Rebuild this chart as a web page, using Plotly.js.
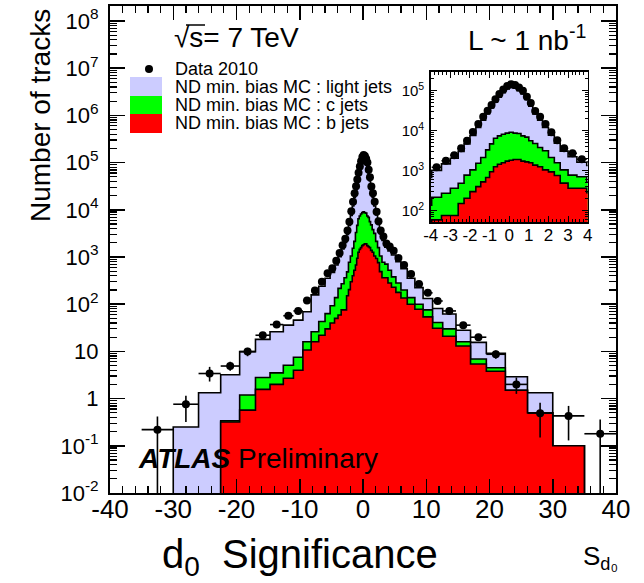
<!DOCTYPE html>
<html>
<head>
<meta charset="utf-8">
<script src="https://cdn.plot.ly/plotly-3.0.1.min.js"></script>
<style>html,body{margin:0;padding:0;background:#fff;}#chart{width:644px;height:583px;}</style>
</head>
<body>
<div id="chart"></div>
<script>
// ---- Data ----
// variable-width bin edges of the d0 significance histogram
const binEdges = [-40,-35,-30,-26,-22.5,-19.5,-17,-14.7,-12.6,-11,-9.5,-8.2,-7,-6,-5.2,-4.5,-3.95,-3.45,-3,-2.6,-2.3,-2,-1.7,-1.45,-1.2,-1,-0.8,-0.6,-0.4,-0.2,
  0,0.2,0.4,0.6,0.8,1,1.2,1.45,1.7,2,2.3,2.6,3,3.45,3.95,4.5,5.2,6,7,8.2,9.5,11,12.6,14.7,17,19.5,22.5,26,30,35,40];
// Data 2010 (tracks per unit of S_d0)
const data2010 = [null,0.22,0.76,3.4,4.9,9.9,22,37,57,72, 120,195,300,450,575,830,1220,1780,2450,3630,
  5600,9300,14800,22400,31600,43600,61000,83000,107000,132000,
  145000,138000,120000,100000,71000,49000,31000,22400,14800,9100, 5750,3630,2720,1930,1660,1350,955,676,437,269,
  174,117,72,36,20,8.7,2.0,0.49,0.43,0.18];
const data2010ErrUp = [0,0.2,0.39,1.3,1.1,2.0,3.0,4.0,0,0, 0,0,0,0,0,0,0,0,0,0, 0,0,0,0,0,0,0,0,0,0,
  0,0,0,0,0,0,0,0,0,0, 0,0,0,0,0,0,0,0,0,0, 0,0,0,0,2.5,1.7,0.8,0.33,0.27,0.18];
const data2010ErrDown = [0,0.22,0.44,1.1,1.0,2.0,3.0,4.0,0,0, 0,0,0,0,0,0,0,0,0,0, 0,0,0,0,0,0,0,0,0,0,
  0,0,0,0,0,0,0,0,0,0, 0,0,0,0,0,0,0,0,0,0, 0,0,0,0,2.5,1.7,0.74,0.34,0.30,0.18];
// stacked MC heights (top of each stack layer)
const stackLightCB = [0,0,0.25,1.33,3.2,9.9,18,26,36,46, 69,158,240,355,468,676,1020,1480,2040,3020,
  4680,7590,12000,18200,26300,37200,51300,69200,89000,110000,
  120000,115000,100000,83000,60000,40700,26300,18200,12000,7760, 4900,3090,2240,1620,1350,1100,794,562,355,224,
  132,81,62,28,15.5,9.1,2.9,1.33,0.1,0];
const stackCB = [0,0,0,0,0.34,1.19,2.8,3.5,5.1,7.5, 16,26,43,63,93,138,216,272,363,484,
  776,1050,1530,2140,3310,4680,6460,7410,8130,8710,
  9120,8710,8510,7410,6920,5620,4790,3800,3160,2140, 1580,1050,776,708,525,380,282,200,138,100,
  76,41,30,16,6.9,4.5,1.5,0.5,0.1,0];
const stackB = [0,0,0,0,0.32,0.57,1.57,2.0,2.7,4.0, 10.7,16,22,30,40,50,59,76,76,151,
  204,300,400,525,676,944,1260,1450,1580,1740,
  1820,1900,1900,1740,1660,1580,1380,1260,1050,933, 759,490,363,363,282,229,178,135,100,78,
  54,31,21,13,5.4,3.8,1.5,0.5,0.1,0];
const legendLabels = ["Data 2010","ND min. bias MC : light jets","ND min. bias MC : c jets","ND min. bias MC : b jets"];
const mainXTicks = [-40,-30,-20,-10,0,10,20,30,40];
const mainYTickText = ["10<sup>-2</sup>","10<sup>-1</sup>","1","10","10<sup>2</sup>","10<sup>3</sup>","10<sup>4</sup>","10<sup>5</sup>","10<sup>6</sup>","10<sup>7</sup>","10<sup>8</sup>"];
const insetXTicks = [-4,-3,-2,-1,0,1,2,3,4];
const insetYTickText = ["10<sup>2</sup>","10<sup>3</sup>","10<sup>4</sup>","10<sup>5</sup>"];

// ---- helpers ----
const FONT = "Liberation Sans, Arial, Helvetica, sans-serif";
const FLOOR = 1e-6;
const centers = binEdges.slice(0,-1).map((e,i)=>(e+binEdges[i+1])/2);
const halfW = binEdges.slice(0,-1).map((e,i)=>(binEdges[i+1]-e)/2);
function step(vals){
  const x=[binEdges[0]], y=[FLOOR];
  vals.forEach((v,i)=>{x.push(binEdges[i]); y.push(v>0?v:FLOOR);});
  x.push(binEdges[binEdges.length-1]); y.push(vals[vals.length-1]>0?vals[vals.length-1]:FLOOR);
  x.push(binEdges[binEdges.length-1]); y.push(FLOOR);
  return {x,y};
}
const L=110,R=616,T=6,B=493;
const PX = p => (p-L)/(R-L);
const PY = p => (B-p)/(B-T);

function histTraces(xa, ya, msize){
  const layers = [[stackLightCB,'#ccccff'],[stackCB,'#00ff00'],[stackB,'#ff0000']];
  const out = layers.map(([v,c])=>{const s=step(v); return {x:s.x,y:s.y,type:'scatter',mode:'lines',
    line:{shape:'hv',color:'black',width:1.6},fill:'tozeroy',fillcolor:c,xaxis:xa,yaxis:ya,hoverinfo:'skip',showlegend:false};});
  out.push({x:centers,y:data2010,type:'scatter',mode:'markers',xaxis:xa,yaxis:ya,showlegend:false,
    marker:{color:'black',size:msize},
    error_y:{type:'data',symmetric:false,array:data2010ErrUp,arrayminus:data2010ErrDown,color:'black',thickness:1.6,width:0},
    error_x:{type:'data',array:halfW,color:'black',thickness:1.6,width:0}});
  return out;
}
const traces = histTraces('x','y',8).concat(histTraces('x2','y2',8));

const decades = []; for(let d=-2; d<=8; d++) decades.push(Math.pow(10,d));
const minorLog = []; for(let d=-3; d<=8; d++) for(let k=2;k<=9;k++) minorLog.push(k*Math.pow(10,d));
const minorX = []; for(let v=-40; v<=40; v+=2) minorX.push(v);
const minorX2 = []; for(let v=-4; v<=4.001; v+=0.2) minorX2.push(+v.toFixed(1));

function label(x,y,text,size,anchor,extra){
  return Object.assign({xref:'paper',yref:'paper',x:PX(x),y:PY(y),xanchor:anchor||'left',yanchor:'middle',
    showarrow:false,text:text,font:{size:size}},extra||{});
}

const layout = {
  width:644, height:583, margin:{l:L,r:644-R,t:T,b:583-B,pad:0},
  paper_bgcolor:'white', plot_bgcolor:'white', showlegend:false,
  font:{family:FONT,color:'black'},
  xaxis:{range:[-40,40],domain:[0,1],showline:true,linewidth:2,linecolor:'black',mirror:'allticks',
    ticks:'inside',ticklen:14,tickwidth:1.5,tickcolor:'black',tickmode:'array',tickvals:mainXTicks,
    ticktext:mainXTicks.map(String),tickfont:{size:26,family:FONT},showgrid:false,zeroline:false,ticklabelstandoff:-8,
    minor:{tickmode:'array',tickvals:minorX,ticks:'inside',ticklen:7,tickwidth:1.2,tickcolor:'black',showgrid:false}},
  yaxis:{type:'log',range:[-2,8.318],domain:[0,1],showline:true,linewidth:2,linecolor:'black',mirror:'allticks',
    ticks:'inside',ticklen:15,tickwidth:1.5,tickcolor:'black',tickmode:'array',tickvals:decades,ticktext:mainYTickText,
    tickfont:{size:22,family:FONT},showgrid:false,zeroline:false,ticklabelstandoff:5,
    minor:{tickmode:'array',tickvals:minorLog,ticks:'inside',ticklen:7,tickwidth:1.2,tickcolor:'black',showgrid:false}},
  xaxis2:{anchor:'y2',range:[-4,4],domain:[PX(430.7),PX(587.7)],showline:true,linewidth:1.5,linecolor:'black',mirror:'allticks',
    ticks:'inside',ticklen:6,tickwidth:1,tickcolor:'black',tickmode:'array',tickvals:insetXTicks,ticktext:insetXTicks.map(String),
    tickfont:{size:17,family:FONT},showgrid:false,zeroline:false,ticklabelstandoff:-3,
    minor:{tickmode:'array',tickvals:minorX2,ticks:'inside',ticklen:3,tickwidth:1,tickcolor:'black',showgrid:false}},
  yaxis2:{anchor:'x2',type:'log',range:[1.71,5.475],domain:[PY(222.3),PY(71.7)],showline:true,linewidth:1.5,linecolor:'black',mirror:'allticks',
    ticks:'inside',ticklen:6,tickwidth:1,tickcolor:'black',tickmode:'array',tickvals:[100,1000,10000,100000],ticktext:insetYTickText,
    tickfont:{size:15,family:FONT},showgrid:false,zeroline:false,ticklabelstandoff:2,
    minor:{tickmode:'array',tickvals:minorLog,ticks:'inside',ticklen:3,tickwidth:1,tickcolor:'black',showgrid:false}},
  shapes:[
    {type:'rect',xref:'paper',yref:'paper',x0:PX(130),x1:PX(162),y0:PY(96),y1:PY(77),fillcolor:'#ccccff',line:{width:0}},
    {type:'rect',xref:'paper',yref:'paper',x0:PX(130),x1:PX(162),y0:PY(114),y1:PY(96),fillcolor:'#00ff00',line:{width:0}},
    {type:'rect',xref:'paper',yref:'paper',x0:PX(130),x1:PX(162),y0:PY(133),y1:PY(114),fillcolor:'#ff0000',line:{width:0}},
    {type:'circle',xref:'paper',yref:'paper',x0:PX(145),x1:PX(153),y0:PY(73),y1:PY(65),fillcolor:'black',line:{width:0}},
    {type:'line',xref:'paper',yref:'paper',x0:PX(186),x1:PX(205),y0:PY(25),y1:PY(25),line:{color:'black',width:1.5}}
  ],
  annotations:[
    label(173,69,legendLabels[0],18),
    label(173,87,legendLabels[1],18),
    label(173,105,legendLabels[2],18),
    label(173,123,legendLabels[3],18),
    label(172,38,'√s= 7 TeV',28),
    label(588,38,'L ~ 1 nb<sup>-1</sup>',28,'right'),
    label(136,458,'<b><i>ATLAS</i></b> Preliminary',28),
    label(40,116,'Number of tracks',28,'center',{textangle:-90}),
    label(160,557,'d<sub>0</sub>  Significance',40),
    label(581,557,'S<sub>d₀</sub>',26)
  ]
};
Plotly.newPlot('chart', traces, layout, {displayModeBar:false, staticPlot:true});
</script>
</body>
</html>
